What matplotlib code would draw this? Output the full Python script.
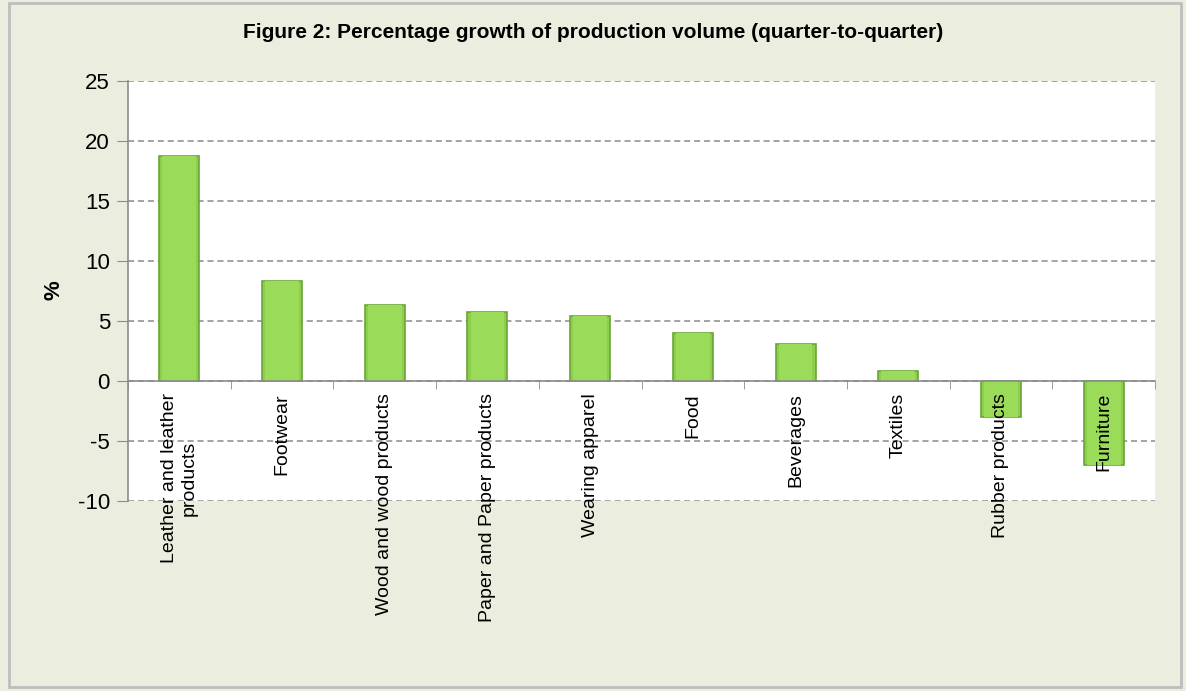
import numpy as np
import matplotlib
matplotlib.use("Agg")
import matplotlib.pyplot as plt
from matplotlib.patches import Rectangle

categories = ["Leather and leather\nproducts", "Footwear", "Wood and wood products",
              "Paper and Paper products", "Wearing apparel", "Food", "Beverages",
              "Textiles", "Rubber products", "Furniture"]
growth = [18.75, 8.3, 6.3, 5.75, 5.4, 4.0, 3.1, 0.8, -3.0, -7.0]
yticks = [-10, -5, 0, 5, 10, 15, 20, 25]

plt.rcParams["font.family"] = ["Liberation Sans", "DejaVu Sans"]
plt.rcParams["axes.unicode_minus"] = False

fig = plt.figure(figsize=(11.86, 6.91), dpi=100)
fig.patch.set_facecolor("#ebeedf")
# outer frame
fig.patches.append(Rectangle((0.008, 0.006), 0.988, 0.99, transform=fig.transFigure,
                             fill=False, edgecolor="#bdbdbd", linewidth=2))

ax = fig.add_axes([128 / 1186, 1 - 501 / 691, (1155 - 128) / 1186, (501 - 81) / 691])
ax.set_facecolor("white")

x = np.arange(len(categories))
ax.bar(x, growth, width=0.39, color="#8fce4c", edgecolor="#6aa537", linewidth=1.2, zorder=3)
# light bevel on each bar
ax.bar(x, growth, width=0.33, color="#9bdb5a", linewidth=0, zorder=4)

ax.set_xlim(-0.5, len(categories) - 0.5)
ax.set_ylim(-10, 25)
ax.set_yticks(yticks)
ax.tick_params(axis="y", labelsize=16, length=8, color="#8c8c8c", direction="out", pad=5)
ax.grid(axis="y", linestyle=(0, (4, 2.5)), color="#8c8c8c", linewidth=1.1, zorder=1)

for s in ["top", "right"]:
    ax.spines[s].set_visible(False)
ax.spines["left"].set_color("#8c8c8c")
ax.spines["left"].set_linewidth(1.2)
ax.spines["bottom"].set_position(("data", 0))
ax.spines["bottom"].set_color("#8c8c8c")
ax.spines["bottom"].set_linewidth(1.2)
ax.spines["bottom"].set_zorder(5)

ax.set_xticks(x)
ax.set_xticklabels([])
ax.set_xticks(np.arange(len(categories) + 1) - 0.5, minor=True)
ax.tick_params(axis="x", which="major", length=0)
ax.tick_params(axis="x", which="minor", length=6, color="#8c8c8c", direction="out")
for xi, name in zip(x, categories):
    ax.annotate(name, xy=(xi, 0), xytext=(0, -12), textcoords="offset pixels",
                rotation=90, ha="center", va="top", multialignment="center",
                fontsize=14, zorder=10, annotation_clip=False)

ax.set_ylabel("%", fontsize=16, fontweight="bold")
ax.yaxis.set_label_coords(-0.062, 0.502)
fig.text(0.5, 1 - 33 / 691, "Figure 2: Percentage growth of production volume (quarter-to-quarter)",
         ha="center", va="center", fontsize=15, fontweight="bold")

fig.savefig("out.png", dpi=100, facecolor=fig.get_facecolor())
